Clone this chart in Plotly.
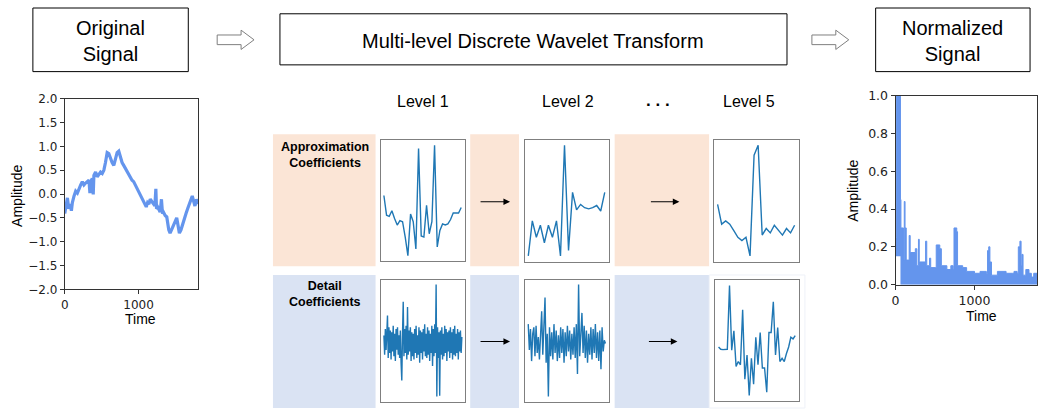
import plotly.graph_objects as go

# ---------------- data ----------------
orig_time = [0, 18, 36, 54, 72, 90, 103, 126, 148, 171, 193, 216, 238, 260, 283, 305, 328, 341, 355, 373,
             386, 395, 418, 440, 463, 485, 508, 530, 552, 575, 597, 620, 642, 665, 687, 710, 732, 754, 777, 799,
             822, 844, 867, 889, 912, 934, 957, 979, 1002, 1024, 1046, 1069, 1091, 1105, 1123, 1141, 1159, 1181, 1204, 1222,
             1235, 1244, 1262, 1280, 1293, 1311, 1325, 1338, 1361, 1383, 1397, 1410, 1428, 1451, 1473, 1496, 1518, 1536, 1554, 1576,
             1599, 1621, 1644, 1666, 1689, 1711, 1729, 1747, 1765, 1787, 1810]
orig_amp = [-0.41, -0.28, -0.08, -0.31, -0.21, -0.35, -0.18, -0.04, 0.06, 0.02, 0.12, 0.19, 0.26, 0.19, 0.23, 0.26, 0.29, 0.02, 0.26, 0.33,
            -0.01, 0.39, 0.46, 0.36, 0.43, 0.46, 0.43, 0.50, 0.66, 0.87, 0.85, 0.73, 0.66, 0.60, 0.73, 0.87, 0.90, 0.77, 0.66, 0.60,
            0.53, 0.46, 0.39, 0.33, 0.29, 0.26, 0.19, 0.12, 0.06, -0.01, -0.08, -0.15, -0.21, -0.27, -0.18, -0.21, -0.11, -0.15, -0.21, -0.25,
            0.11, -0.31, -0.28, -0.35, -0.38, -0.11, -0.41, -0.38, -0.45, -0.48, -0.62, -0.75, -0.82, -0.75, -0.68, -0.58, -0.50, -0.68, -0.82, -0.75,
            -0.62, -0.52, -0.41, -0.31, -0.21, -0.11, -0.04, -0.15, -0.25, -0.11, -0.21]

norm_time = [0, 10, 58, 62, 68, 95, 100, 110, 120, 135, 165, 172, 185, 250, 270, 290, 300, 360, 380, 395,
             430, 445, 505, 515, 560, 580, 650, 700, 730, 740, 775, 785, 850, 900, 1000, 1060, 1070, 1150, 1165, 1180,
             1195, 1215, 1290, 1400, 1480, 1500, 1540, 1555, 1575, 1590, 1600, 1615, 1650, 1690, 1720, 1750, 1792]
norm_upper = [0.25, 1.2, 1.2, 0.45, 0.30, 0.30, 0.13, 0.44, 0.30, 0.13, 0.13, 0.26, 0.17, 0.19, 0.10, 0.24, 0.12, 0.12, 0.23, 0.10,
              0.14, 0.09, 0.09, 0.21, 0.19, 0.10, 0.08, 0.10, 0.08, 0.30, 0.28, 0.10, 0.09, 0.07, 0.06, 0.06, 0.07, 0.06, 0.18, 0.20,
              0.12, 0.05, 0.07, 0.06, 0.06, 0.07, 0.06, 0.20, 0.23, 0.10, 0.16, 0.05, 0.08, 0.06, 0.04, 0.06, 0.04]
norm_lower = [0.15, 0.15, 0.15, 0.0, 0.0, 0.0, 0.0, 0.0, 0.0, 0.0, 0.0, 0.0, 0.0, 0.0, 0.0, 0.0, 0.0, 0.0, 0.0, 0.0,
              0.0, 0.0, 0.0, 0.0, 0.0, 0.0, 0.0, 0.0, 0.0, 0.0, 0.0, 0.0, 0.0, 0.0, 0.0, 0.0, 0.0, 0.0, 0.0, 0.0,
              0.0, 0.0, 0.0, 0.0, 0.0, 0.0, 0.0, 0.0, 0.0, 0.0, 0.0, 0.0, 0.0, 0.0, 0.0, 0.0, 0.0]

approx_l1 = [0.56, 0.38, 0.37, 0.42, 0.35, 0.29, 0.33, 0.32, 0.18, 0.01, 0.39, 0.32, 0.07, 0.99, 0.19,
             0.18, 0.47, 0.21, 0.32, 1.02, 0.09, 0.24, 0.30, 0.29, 0.30, 0.34, 0.40, 0.40, 0.40, 0.45]
approx_l2 = [0.01, 0.33, 0.18, 0.29, 0.13, 0.29, 0.18, 0.33, 0.01, 1.02, 0.06, 0.59, 0.43, 0.48, 0.45,
             0.44, 0.45, 0.47, 0.42, 0.59]
approx_l5 = [0.48, 0.30, 0.33, 0.30, 0.24, 0.18, 0.15, 0.18, 0.01, 0.93, 1.02, 0.20, 0.26, 0.22, 0.29,
             0.24, 0.20, 0.26, 0.22, 0.29]

detail_l1 = [0.25, -0.35, 0.45, -0.2, 0.3, 0.87, -0.45, 0.5, -0.3, 0.4,
             -0.5, 0.35, -0.25, 0.55, -0.4, 0.3, -0.55, 0.45, -0.2, 0.5,
             -0.35, 0.25, -0.45, 0.4, -0.6, -1.15, 0.3, 1.3, -0.4, 0.45,
             -0.3, 0.55, -0.5, 1.13, -0.35, 0.4, -0.25, 0.5, -0.55, 0.35,
             -0.4, 0.3, -0.5, 0.45, -0.3, 0.55, -0.45, 0.25, -0.35, 0.5,
             -0.6, 0.4, -0.3, 0.35, -0.5, 0.45, -0.25, 0.6, -0.4, 0.3,
             -0.45, 0.5, -0.35, 0.4, -0.55, 0.3, -0.3, 0.55, -0.7, 0.45,
             -0.4, 0.6, -0.3, 1.83, -1.65, 0.5, -0.45, 0.35, -1.63, 0.4,
             -0.35, 0.5, -0.5, 0.3, -0.4, 0.55, -0.3, 0.45, -0.55, 0.35,
             -0.25, 0.4, -0.45, 0.5, -0.3, 0.35, -0.5, 0.45, -0.35, 0.55,
             -0.4, 0.3, -0.3, 0.45, -0.5, 0.35, -0.25, 0.4, -0.3, 0.2]
detail_l2 = [0.6, -0.2, 0.45, -0.55, 0.3, 0.5, -0.4, 0.55, -0.3, 0.2,
             -0.5, 0.45, 1.0, -0.35, 0.4, 1.43, -0.6, 0.3, -1.65, 0.5,
             -0.4, 0.35, -0.5, 0.6, -0.3, 0.4, -0.55, 0.25, -0.45, 0.5,
             -0.3, 0.45, -0.6, 0.35, -0.4, 0.55, -0.25, 0.4, -0.5, 0.3,
             -0.35, 0.5, -0.45, 0.6, -0.95, 1.83, -0.4, 0.5, 0.95, -0.3,
             0.55, -0.45, 0.4, -0.6, 0.3, -0.35, 0.5, -0.5, 0.45, -0.3,
             0.6, -0.45, 0.35, -0.55, 0.4, -0.8, 0.5, -0.25, 0.1, 0.0]
detail_l5 = [-0.10, -0.17, -0.18, -0.17, -0.17, 1.80, -0.20, 0.40, -0.70, -0.55, -0.65, 1.05, -1.10, -0.35, -1.60, -0.45,
             -1.25, 0.20, -0.65, 0.35, -0.75, -0.75, -1.50, 0.35, 0.35, 1.30, -0.35, 0.50, -0.55, -0.45, -0.55, -0.30,
             -0.10, 0.20, 0.15, 0.25]

orig_yticks = [-2.0, -1.5, -1.0, -0.5, 0.0, 0.5, 1.0, 1.5, 2.0]
orig_yticktext = ["\u22122.0", "\u22121.5", "\u22121.0", "\u22120.5", "0.0", "0.5", "1.0", "1.5", "2.0"]
norm_yticks = [0.0, 0.2, 0.4, 0.6, 0.8, 1.0]
norm_yticktext = ["0.0", "0.2", "0.4", "0.6", "0.8", "1.0"]
time_ticks = [0, 1000]
time_ticktext = ["0", "1000"]

level_labels = ["Level 1", "Level 2", "Level 5"]
row_labels = ["Approximation<br>Coefficients", "Detail<br>Coefficients"]

# ---------------- layout helpers ----------------
W, H = 1046, 415
def PX(x): return x / W
def PY(y): return 1 - y / H

BLUE_SIG = "#6495ED"
BLUE_COEF = "#1f77b4"
PEACH = "#FBE5D6"
LBLUE = "#DAE3F3"
TXT = "Liberation Sans, Arial, Helvetica, sans-serif"
TICKF = "DejaVu Sans, sans-serif"

fig = go.Figure()

# main signals
fig.add_trace(go.Scatter(x=orig_time, y=orig_amp, mode="lines",
                         line=dict(color=BLUE_SIG, width=3.2), xaxis="x", yaxis="y", hoverinfo="skip"))
fig.add_trace(go.Scatter(x=norm_time, y=norm_lower, mode="lines",
                         line=dict(color=BLUE_SIG, width=0, shape="hv"), xaxis="x2", yaxis="y2", hoverinfo="skip"))
fig.add_trace(go.Scatter(x=norm_time, y=norm_upper, mode="lines", fill="tonexty", fillcolor=BLUE_SIG,
                         line=dict(color=BLUE_SIG, width=1, shape="hv"), xaxis="x2", yaxis="y2", hoverinfo="skip"))

small = [
    (approx_l1, 3, (378, 463), (137, 263), (-1.25, 30.5), (-0.044, 1.068)),
    (approx_l2, 4, (523, 607), (137, 264), (-0.82, 19.98), (-0.05, 1.068)),
    (approx_l5, 5, (713, 798), (137, 264), (-0.82, 20.07), (-0.05, 1.068)),
    (detail_l1, 6, (378, 463), (282, 409), (-4.7, 113.7), (-1.83, 1.98)),
    (detail_l2, 7, (523, 607), (282, 409), (-2.9, 71.9), (-1.83, 1.98)),
    (detail_l5, 8, (714, 798), (282, 408), (-1.5, 36.7), (-1.78, 1.98)),
]

layout_axes = {}
main_axis = dict(showline=True, linecolor="#333333", linewidth=1, mirror=True, ticks="outside",
                 ticklen=4, tickwidth=1, tickcolor="#333333", showgrid=False, zeroline=False,
                 tickfont=dict(family=TICKF, size=12, color="#222222"))

layout_axes["xaxis"] = dict(main_axis, domain=[PX(61), PX(195)], range=[0, 1810], anchor="y",
                            tickvals=time_ticks, ticktext=time_ticktext)
layout_axes["yaxis"] = dict(main_axis, domain=[PY(292), PY(94)], range=[-2, 2], anchor="x",
                            tickvals=orig_yticks, ticktext=orig_yticktext)
layout_axes["xaxis2"] = dict(main_axis, domain=[PX(895), PX(1037)], range=[0, 1792], anchor="y2",
                             tickvals=time_ticks, ticktext=time_ticktext,
                             tickfont=dict(family=TICKF, size=12.5, color="#222222"))
layout_axes["yaxis2"] = dict(main_axis, domain=[PY(287), PY(91)], range=[0, 1.0], anchor="x2",
                             tickvals=norm_yticks, ticktext=norm_yticktext,
                             tickfont=dict(family=TICKF, size=12.5, color="#222222"))

for vals, n, (x0, x1), (y0, y1), xr, yr in small:
    fig.add_trace(go.Scatter(x=list(range(len(vals))), y=vals, mode="lines",
                             line=dict(color=BLUE_COEF, width=1.4), xaxis=f"x{n}", yaxis=f"y{n}",
                             hoverinfo="skip"))
    ax = dict(showline=True, linecolor="#7f7f7f", linewidth=1, mirror=True, showticklabels=False,
              ticks="", showgrid=False, zeroline=False)
    layout_axes[f"xaxis{n}"] = dict(ax, domain=[PX(x0), PX(x1)], range=list(xr), anchor=f"y{n}")
    layout_axes[f"yaxis{n}"] = dict(ax, domain=[PY(y1), PY(y0)], range=list(yr), anchor=f"x{n}")

shapes = []
def rect(x0, y0, x1, y1, fill=None, line=None, lw=1, layer="below"):
    shapes.append(dict(type="rect", xref="paper", yref="paper", x0=PX(x0), x1=PX(x1), y0=PY(y1), y1=PY(y0),
                       fillcolor=fill if fill else "rgba(0,0,0,0)",
                       line=dict(color=line if line else "rgba(0,0,0,0)", width=lw if line else 0),
                       layer=layer))

# coloured row bands
for (a, b) in [(270, 373), (468, 517), (613, 708)]:
    rect(a, 131, b, 268, fill=PEACH)
    rect(a, 277, b, 415, fill=LBLUE)
rect(708, 277, 804, 415, fill="white", line="#eef1f8", lw=1)
rect(708, 131, 804, 268, fill="white")

# title boxes
rect(29, 0, 185, 66, line="black", lw=1, layer="above")
rect(277, 6, 786, 59, line="black", lw=1, layer="above")
rect(875, 0, 1030, 66, line="black", lw=1, layer="above")

# hollow arrows
def hollow_arrow(x0, x1, yc):
    hx = x1 - 13
    pts = [(x0, yc - 5), (hx, yc - 5), (hx, yc - 10), (x1, yc), (hx, yc + 10), (hx, yc + 5), (x0, yc + 5)]
    path = "M " + " L ".join(f"{PX(x)},{PY(y)}" for x, y in pts) + " Z"
    shapes.append(dict(type="path", xref="paper", yref="paper", path=path,
                       line=dict(color="#7f7f7f", width=1), fillcolor="white", layer="above"))
hollow_arrow(214, 251, 33)
hollow_arrow(811, 848, 33)

annotations = []
def text(x, y, s, size, bold=False, family=TXT, angle=0, color="black"):
    annotations.append(dict(x=PX(x), y=PY(y), xref="paper", yref="paper", text=(f"<b>{s}</b>" if bold else s),
                            showarrow=False, font=dict(family=family, size=size, color=color),
                            xanchor="center", yanchor="middle", textangle=angle))

text(107, 34, "Original<br>Signal", 20)
text(531, 34, "Multi-level Discrete Wavelet Transform", 20)
text(952, 34, "Normalized<br>Signal", 20)
for lbl, x in zip(level_labels, [421, 566, 748]):
    text(x, 97, lbl, 16)
text(657, 96, ". . .", 17, bold=True)
text(322, 152, row_labels[0], 12.5, bold=True)
text(322, 297, row_labels[1], 12.5, bold=True)

# axis titles
text(13, 195, "Amplitude", 14, angle=-90)
text(137, 323, "Time", 14)
text(852, 190, "Amplitude", 14, angle=-90)
text(981, 320, "Time", 14)

# black process arrows
for (xa, xb, yy) in [(477, 508, 201), (648, 678, 201), (477, 508, 346), (646, 676, 346)]:
    annotations.append(dict(x=PX(xb), y=PY(yy), xref="paper", yref="paper", ax=xa - xb, ay=0,
                            text="", showarrow=True, arrowhead=2, arrowsize=1.1, arrowwidth=1.2,
                            arrowcolor="black"))

fig.update_layout(width=W, height=H, margin=dict(l=0, r=0, t=0, b=0),
                  paper_bgcolor="white", plot_bgcolor="white", showlegend=False,
                  shapes=shapes, annotations=annotations, **layout_axes)

fig.write_html("out.html", config={"displayModeBar": False},
               post_script="document.body.style.margin='0';document.body.style.overflow='hidden';"
                           "document.documentElement.style.overflow='hidden';")
